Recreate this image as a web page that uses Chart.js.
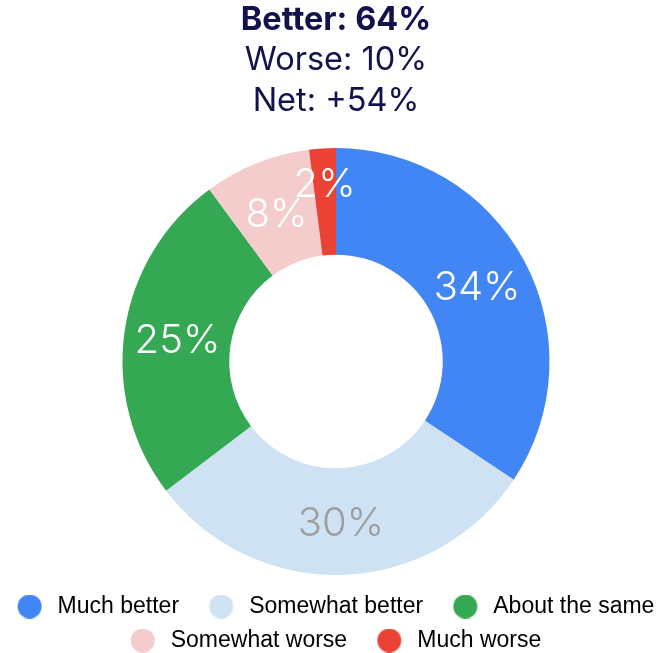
<!DOCTYPE html>
<html lang="en">

<head>
    <meta charset="UTF-8">
    <title>Better / Worse</title>
    <script src="https://cdn.jsdelivr.net/npm/chart.js"></script>
    <style>
        body { margin: 0; background: #fff; overflow: hidden; }
        #chartBox { width: 662px; height: 653px; margin-left: 5px; }
    </style>
</head>

<body>
    <div id="chartBox">
        <canvas id="betterWorseChart"></canvas>
    </div>

    <script>
        const categories = ['Much better', 'Somewhat better', 'About the same', 'Somewhat worse', 'Much worse'];
        const shares = [34, 30, 25, 8, 2];
        const sliceColors = ['#4285f4', '#cfe2f3', '#34a853', '#f4cccc', '#ea4335'];
        const labelColors = ['#ffffff', '#9e9e9e', '#ffffff', '#ffffff', '#ffffff'];
        const headline = 'Better: 64%';
        const summaryLines = ['Worse: 10%', 'Net: +54%'];

        // last legend entry of each row (no trailing gap after these)
        const legendRowEnds = [2, 4];

        // round legend markers, drawn as small canvases so the dot can sit a bit left of the box
        function legendDot(color) {
            const c = document.createElement('canvas');
            c.width = 30;
            c.height = 24;
            const g = c.getContext('2d');
            g.fillStyle = color;
            g.beginPath();
            g.arc(12.75, 12, 12, 0, Math.PI * 2);
            g.fill();
            return c;
        }

        // percentage labels in the middle of each slice; thin slices get theirs pushed outward
        const sliceLabels = {
            id: 'sliceLabels',
            afterDatasetsDraw(chart) {
                const ctx = chart.ctx;
                const meta = chart.getDatasetMeta(0);
                const size = 40;
                ctx.save();
                ctx.font = '300 ' + size + 'px Inter';
                ctx.textAlign = 'center';
                ctx.textBaseline = 'alphabetic';
                meta.data.forEach((arc, i) => {
                    const p = arc.getProps(['x', 'y', 'startAngle', 'endAngle', 'innerRadius', 'outerRadius'], true);
                    const mid = (p.startAngle + p.endAngle) / 2;
                    let r = (p.innerRadius + p.outerRadius) / 2;
                    if (shares[i] < 5) r = p.outerRadius - 34;
                    const x = p.x + Math.cos(mid) * r;
                    const y = p.y + Math.sin(mid) * r;
                    ctx.fillStyle = labelColors[i];
                    ctx.fillText(shares[i] + '%', x, y + size * 0.727 / 2);
                });
                ctx.restore();
            }
        };

        // push the legend rows a little closer to the bottom edge
        const legendNudge = {
            id: 'legendNudge',
            afterLayout(chart) {
                chart.legend.top += 9;
                chart.legend.bottom += 9;
            }
        };

        new Chart(document.getElementById('betterWorseChart'), {
            type: 'doughnut',
            data: {
                labels: categories,
                datasets: [{
                    data: shares,
                    backgroundColor: sliceColors,
                    borderWidth: 0
                }]
            },
            options: {
                responsive: true,
                maintainAspectRatio: false,
                animation: false,
                cutout: '50%',
                plugins: {
                    title: {
                        display: true,
                        text: headline,
                        color: '#12124d',
                        font: { family: 'Inter', size: 32.5, weight: 'bold', lineHeight: 40 / 32.5 },
                        padding: { top: 0, bottom: 0 }
                    },
                    subtitle: {
                        display: true,
                        text: summaryLines,
                        color: '#12124d',
                        font: { family: 'Inter', size: 32.5, weight: 'normal', lineHeight: 41 / 32.5 },
                        padding: { top: 0, bottom: 26 }
                    },
                    legend: {
                        position: 'bottom',
                        labels: {
                            usePointStyle: true,
                            pointStyleWidth: 28.5,
                            padding: 11,
                            color: '#222222',
                            font: { family: 'Liberation Sans', size: 23 },
                            generateLabels: () => categories.map((name, i) => ({
                                text: legendRowEnds.includes(i) ? name : name + '   ',
                                fillStyle: sliceColors[i],
                                strokeStyle: sliceColors[i],
                                lineWidth: 0,
                                pointStyle: legendDot(sliceColors[i]),
                                hidden: false,
                                index: i
                            }))
                        }
                    },
                    tooltip: { enabled: false }
                }
            },
            plugins: [sliceLabels, legendNudge]
        });
    </script>
</body>

</html>
